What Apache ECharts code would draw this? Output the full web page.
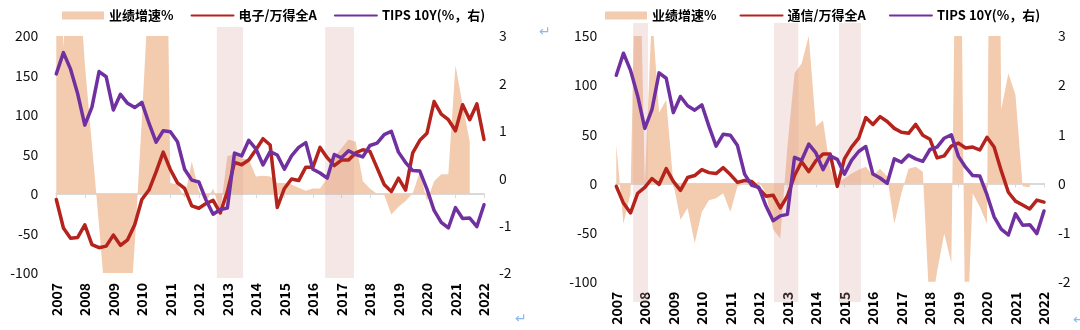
<!DOCTYPE html>
<html><head><meta charset="utf-8">
<script src="https://cdn.jsdelivr.net/npm/echarts@6/dist/echarts.min.js"></script>
<style>html,body{margin:0;padding:0;background:#fff}#c{width:1080px;height:330px}</style>
</head><body><div id="c"></div>
<script>
// ---- data ----
const years = ['2007','2008','2009','2010','2011','2012','2013','2014','2015','2016','2017','2018','2019','2020','2021','2022'];
const quarters = [];
years.forEach(function (y, k) { for (let q = 1; q <= 4; q++) { if (k < years.length - 1 || q === 1) quarters.push(y + 'Q' + q); } });

const tips10y = [2.20, 2.65, 2.30, 1.78, 1.12, 1.50, 2.25, 2.14, 1.44, 1.77, 1.58, 1.49, 1.60, 1.16, 0.76, 1.00, 0.98, 0.77, 0.19, -0.04, -0.08, -0.46, -0.76, -0.66, -0.63, 0.53, 0.47, 0.80, 0.62, 0.28, 0.56, 0.49, 0.19, 0.47, 0.65, 0.75, 0.19, 0.11, 0.00, 0.50, 0.43, 0.58, 0.50, 0.45, 0.69, 0.74, 0.92, 0.99, 0.55, 0.33, 0.16, 0.15, -0.23, -0.68, -0.93, -1.05, -0.62, -0.85, -0.84, -1.02, -0.56];

const elecRel = [-7, -43, -56, -55, -39, -64, -68, -66, -52, -65, -58, -39, -7, 5, 28, 53, 31, 14, 7, -15, -18, -12, -8, -24, 3, 40, 37, 43, 56, 70, 62, -17, 7, 19, 17, 34, 34, 59, 46, 36, 43, 43, 52, 56, 54, 33, 12, 3, 20, 5, 52, 68, 77, 117, 101, 94, 80, 113, 94, 114, 69];
const elecGrowth = [400, 185, 400, 300, 165, 62, -40, -150, -200, -180, -200, -64, 94, 265, 300, 700, 14, 12, -5, 41, 4, -10, 7, -22, 48, 50, 45, 44, 22, 23, 22, 14, 14, 12, 8, 4, 7, 7, 20, 47, 58, 69, 66, 16, 7, 0, -1, -26, -16, -9, 1, 28, -9, 16, 25, 25, 163, 113, 66];

const telRel = [-3, -20, -30, -10, -4, 5, -1, 15, 2, -7, 6, 8, 14, 11, 10, 16, 9, 1, 3, 2, -5, -13, -12, -25, -13, 8, 22, 12, 23, 30, 30, -3, 25, 37, 46, 67, 60, 68, 63, 56, 52, 51, 60, 49, 45, 26, 28, 38, 41, 36, 37, 34, 47, 37, 13, -9, -18, -22, -26, -17, -19];
const telGrowth = [39, -41, -10, 350, 0, 175, 72, 85, 0, -37, -25, -61, -29, -17, -15, -10, -29, -3, 0, -3, 2, -10, -47, -56, 37, 112, 122, 150, 58, 64, 15, 0, 5, 10, 14, 17, 8, 15, 7, -41, -10, 15, 17, 12, -135, -90, -51, -81, 495, -195, -10, -24, -41, 900, 75, 112, 90, -3, -4];

const bandsLeft = [[2012.63, 2013.55], [2016.43, 2017.44]];
const bandsRight = [[2007.59, 2008.11], [2012.53, 2013.38], [2014.81, 2015.58]];

const leftTicks = [-100, 200, 50];
const rightTicksL = [-100, 150, 50];
const tipsTicks = [-2, 3, 1];

const NAME_G = '业绩增速%', NAME_E = '电子/万得全A', NAME_T = '通信/万得全A', NAME_TIPS = 'TIPS 10Y(%，右)';

// ---- styles ----
const FONT = "'Noto Sans CJK SC', 'Noto Sans', sans-serif";
const C_AREA = '#F3CBAE', C_RED = '#B5231D', C_PURPLE = '#7030A0', C_BAND = 'rgba(220,160,160,0.25)', C_AXIS = '#D9D9D9';

const chart = echarts.init(document.getElementById('c'), null, {renderer: 'canvas'});

const gridL = {left: 56.3, top: 36, width: 427.7, height: 237};
const gridR = {left: 616.3, top: 36, width: 427.7, height: 245.7};

function labelAxis(gi) {
  return {type: 'category', gridIndex: gi, data: quarters, boundaryGap: false, position: 'bottom',
    axisLine: {show: false, onZero: false}, axisTick: {show: false},
    axisLabel: {interval: 3, rotate: 90, margin: 10, fontSize: 14, fontWeight: 'bold', color: '#000', fontFamily: FONT,
      formatter: function (v) { return v.slice(0, 4); }}};
}
function zeroAxis(gi, yi) {
  return {type: 'category', gridIndex: gi, data: quarters, boundaryGap: false, position: 'bottom',
    axisLine: {show: true, onZero: true, onZeroAxisIndex: yi, lineStyle: {color: C_AXIS, width: 2}},
    axisTick: {show: true, interval: 3, length: 4, lineStyle: {color: C_AXIS, width: 1}},
    axisLabel: {show: false}};
}
function valAxis(gi, pos, t, margin) {
  return {type: 'value', gridIndex: gi, position: pos, min: t[0], max: t[1], interval: t[2],
    splitLine: {show: false}, axisLine: {show: false}, axisTick: {show: false},
    axisLabel: {fontSize: 14, color: '#111', margin: margin, fontFamily: FONT}};
}
function bandGridAxes(gi) {
  return {x: {type: 'value', gridIndex: gi, min: 2007, max: 2022, show: false},
          y: {type: 'value', gridIndex: gi, min: 0, max: 1, show: false}};
}
const bL = bandGridAxes(2), bR = bandGridAxes(3);

function areaSeries(data, xi, yi) {
  return {name: NAME_G, type: 'line', xAxisIndex: xi, yAxisIndex: yi, data: data, symbol: 'none', z: 2,
    lineStyle: {width: 0, opacity: 0}, itemStyle: {color: C_AREA}, areaStyle: {color: C_AREA, opacity: 1}, silent: true};
}
function lineSeries(name, data, color, xi, yi) {
  return {name: name, type: 'line', xAxisIndex: xi, yAxisIndex: yi, data: data, symbol: 'none', z: 4,
    itemStyle: {color: color}, lineStyle: {color: color, width: 3.5, cap: 'round', join: 'round'}, silent: true};
}
function bandSeries(bands, xi, yi) {
  return {type: 'line', xAxisIndex: xi, yAxisIndex: yi, data: [], silent: true,
    markArea: {silent: true, z: 3, itemStyle: {color: C_BAND},
      data: bands.map(function (b) { return [{xAxis: b[0]}, {xAxis: b[1]}]; })}};
}
function legendFor(left, gap, name2) {
  return {left: left, top: 4, itemWidth: 42, itemHeight: 8, itemGap: gap,
    textStyle: {fontSize: 13, fontWeight: 'bold', color: '#000', fontFamily: FONT},
    data: [{name: NAME_G, icon: 'rect'},
           {name: name2, itemStyle: {opacity: 0}},
           {name: NAME_TIPS, itemStyle: {opacity: 0}}]};
}

const option = {
  animation: false,
  backgroundColor: '#fff',
  textStyle: {fontFamily: FONT},
  legend: [legendFor(57, 17, NAME_E), legendFor(600, 23, NAME_T)],
  grid: [gridL, gridR,
    {left: 56.3, width: 427.7, top: 27, height: 251},
    {left: 616.3, width: 427.7, top: 23, height: 279}],
  xAxis: [labelAxis(0), zeroAxis(0, 0), labelAxis(1), zeroAxis(1, 2), bL.x, bR.x],
  yAxis: [valAxis(0, 'left', leftTicks, 18), valAxis(0, 'right', tipsTicks, 15),
          valAxis(1, 'left', rightTicksL, 19), valAxis(1, 'right', tipsTicks, 14), bL.y, bR.y],
  series: [
    areaSeries(elecGrowth, 0, 0),
    bandSeries(bandsLeft, 4, 4),
    lineSeries(NAME_E, elecRel, C_RED, 0, 0),
    lineSeries(NAME_TIPS, tips10y, C_PURPLE, 0, 1),
    areaSeries(telGrowth, 2, 2),
    bandSeries(bandsRight, 5, 5),
    lineSeries(NAME_T, telRel, C_RED, 2, 2),
    lineSeries(NAME_TIPS, tips10y, C_PURPLE, 2, 3)
  ],
  graphic: [
    {type: 'text', left: 539, top: 25, silent: true, style: {text: '↵', fill: '#8AB8F0', font: "14px 'DejaVu Sans'"}},
    {type: 'text', left: 515, top: 312, silent: true, style: {text: '↵', fill: '#8AB8F0', font: "14px 'DejaVu Sans'"}},
    {type: 'text', left: 1073, top: 313, silent: true, style: {text: '↵', fill: '#8AB8F0', font: "14px 'DejaVu Sans'"}}
  ]
};
chart.setOption(option);
</script></body></html>
